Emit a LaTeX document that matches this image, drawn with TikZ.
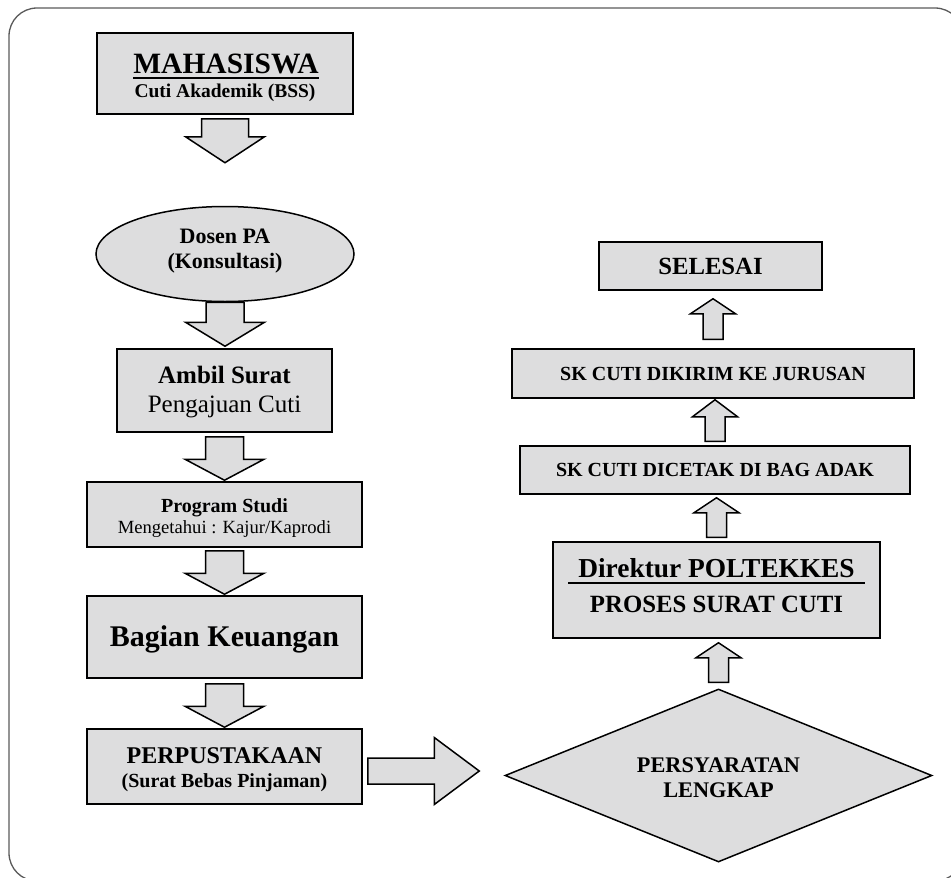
\documentclass[tikz,border=0pt]{standalone}
\usepackage{fontspec}
\setmainfont{Liberation Serif}
\usetikzlibrary{calc,shapes.geometric}
\definecolor{boxfill}{RGB}{221,221,222}
\definecolor{framegray}{RGB}{90,90,90}
\newcommand{\fsz}[1]{\fontsize{#1}{#1}\selectfont}
% down block arrow: from, to, gapTop, gapBottom, shaft half, head half, head height
\newcommand{\dblock}[7]{%
  \draw[blk] let \p1=(#1.south), \p2=(#2.north) in
    (\x1-#5pt,\y1-#3pt) -- (\x1+#5pt,\y1-#3pt) -- (\x1+#5pt,\y2+#4pt+#7pt)
    -- (\x1+#6pt,\y2+#4pt+#7pt) -- (\x1,\y2+#4pt) -- (\x1-#6pt,\y2+#4pt+#7pt)
    -- (\x1-#5pt,\y2+#4pt+#7pt) -- cycle;}
% up block arrow: from (lower), to (upper), gapBottom, gapTop, shaft half, head half, head height
\newcommand{\ublock}[7]{%
  \draw[blk] let \p1=(#1.north), \p2=(#2.south) in
    (\x1-#5pt,\y1+#3pt) -- (\x1+#5pt,\y1+#3pt) -- (\x1+#5pt,\y2-#4pt-#7pt)
    -- (\x1+#6pt,\y2-#4pt-#7pt) -- (\x1,\y2-#4pt) -- (\x1-#6pt,\y2-#4pt-#7pt)
    -- (\x1-#5pt,\y2-#4pt-#7pt) -- cycle;}
\begin{document}
\begin{tikzpicture}[x=1pt,y=-1pt,
  box/.style={draw=black, line width=1.5pt, fill=boxfill, rectangle, inner sep=0pt},
  lbl/.style={anchor=base, inner sep=0pt},
  blk/.style={draw=black, line width=1.5pt, fill=boxfill, line join=miter}]

\useasboundingbox (0,0) rectangle (951,878);
\begin{scope}
  \clip (0,0) rectangle (951,878);
  \draw[framegray, line width=1.3pt, rounded corners=28pt] (9,8) rectangle (963,881);
\end{scope}

% ---- left column ----
\node[box, minimum width=256pt, minimum height=81pt] (mhs) at (225,73.5) {};
\node[box, ellipse, minimum width=258pt, minimum height=95pt] (dosen) at (225,254) {};
\node[box, minimum width=215pt, minimum height=83pt] (ambil) at (224.5,390.5) {};
\node[box, minimum width=275pt, minimum height=65pt] (prodi) at (224.5,514.5) {};
\node[box, minimum width=275pt, minimum height=82pt] (keu) at (224.5,637) {};
\node[box, minimum width=275pt, minimum height=75pt] (perp) at (224.5,766.5) {};

% ---- right column ----
\node[box, diamond, minimum width=427pt, minimum height=173pt] (syarat) at (718.5,775.5) {};
\node[box, minimum width=223pt, minimum height=48pt] (selesai) at (710.5,266) {};
\node[box, minimum width=402pt, minimum height=49pt] (kirim) at (713,373.5) {};
\node[box, minimum width=390pt, minimum height=48pt] (cetak) at (715,470) {};
\node[box, minimum width=327pt, minimum height=96pt] (dir) at (716.5,590) {};

% ---- texts ----
\node[lbl, font=\bfseries\fsz{29.5}] (tMhs) at (226,73) {MAHASISWA};
\draw[line width=2pt] ($(tMhs.base west)+(0,4.5)$) -- ($(tMhs.base east)+(0,4.5)$);
\node[lbl, font=\bfseries\fsz{19.5}] (tMhs2) at (225,97) {Cuti Akademik (BSS)};

\node[lbl, font=\bfseries\fsz{22}] (tDos1) at (225,243) {Dosen PA};
\node[lbl, font=\bfseries\fsz{22}] (tDos2) at (225,268) {(Konsultasi)};

\node[lbl, font=\bfseries\fsz{25}] (tAmb1) at (224.5,383) {Ambil Surat};
\node[lbl, font=\fsz{25}] (tAmb2) at (224.5,412) {Pengajuan Cuti};

\node[lbl, font=\bfseries\fsz{20}] (tPro1) at (224.5,512) {Program Studi};
\node[lbl, font=\fsz{18.6}] (tPro2) at (224.5,533) {Mengetahui : Kajur/Kaprodi};

\node[lbl, font=\bfseries\fsz{30}] (tKeu) at (224.5,646) {Bagian Keuangan};

\node[lbl, font=\bfseries\fsz{24}] (tPer1) at (224.5,763) {PERPUSTAKAAN};
\node[lbl, font=\bfseries\fsz{20}] (tPer2) at (224.5,787) {(Surat Bebas Pinjaman)};

\node[lbl, font=\bfseries\fsz{22.3}] (tSya1) at (718.5,772) {PERSYARATAN};
\node[lbl, font=\bfseries\fsz{22.3}] (tSya2) at (718.5,797) {LENGKAP};

\node[lbl, font=\bfseries\fsz{24.7}] (tSel) at (710.5,274) {SELESAI};
\node[lbl, font=\bfseries\fsz{20}] (tKir) at (713,380) {SK CUTI DIKIRIM KE JURUSAN};
\node[lbl, font=\bfseries\fsz{20}] (tCet) at (715,476.6) {SK CUTI DICETAK DI BAG ADAK};

\node[lbl, font=\bfseries\fsz{27.4}] (tDir1) at (716.5,577) {Direktur POLTEKKES};
\draw[line width=2pt] ($(dir.center)+(-148.5,-7)$) -- ($(dir.center)+(148.5,-7)$);
\node[lbl, font=\bfseries\fsz{24.8}] (tDir2) at (716.5,612) {PROSES SURAT CUTI};

% ---- block arrows ----
\dblock{mhs}{dosen}{4}{43}{23.5}{39.5}{26}
\dblock{dosen}{ambil}{0}{2}{19}{39.5}{24}
\dblock{ambil}{prodi}{4}{1}{19}{39.5}{21}
\dblock{prodi}{keu}{3}{1}{19}{39.5}{21}
\dblock{keu}{perp}{5}{1}{19}{39.5}{21}

\ublock{kirim}{selesai}{9}{8}{10}{22.5}{15}
\ublock{cetak}{kirim}{4}{1}{10}{22.5}{17}
\ublock{dir}{cetak}{4}{3}{10}{22.5}{15}
\ublock{syarat}{dir}{6}{4}{10}{22.5}{15}

\draw[blk] let \p1=(perp.east), \p2=(syarat.west) in
  (\x1+5pt,\y1-4.5pt+13pt) -- (\x2-70pt,\y1-4.5pt+13pt) -- (\x2-70pt,\y1-4.5pt+33.5pt)
  -- (\x2-25pt,\y1-4.5pt) -- (\x2-70pt,\y1-4.5pt-33.5pt) -- (\x2-70pt,\y1-4.5pt-13pt)
  -- (\x1+5pt,\y1-4.5pt-13pt) -- cycle;
\end{tikzpicture}
\end{document}
